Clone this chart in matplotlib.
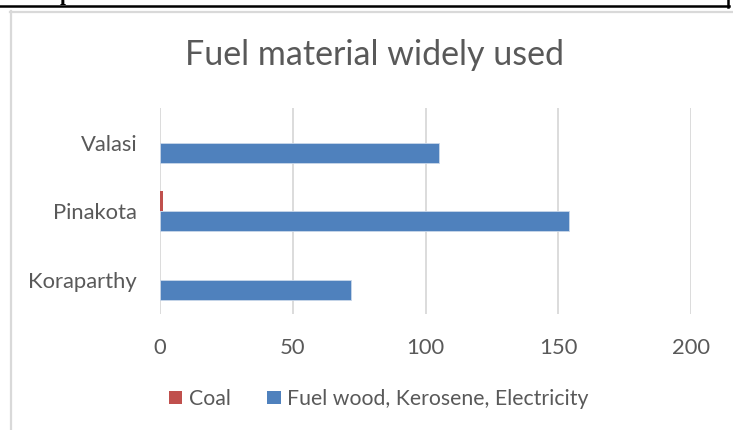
import matplotlib
matplotlib.use("Agg")
import matplotlib.pyplot as plt
from matplotlib.lines import Line2D
from matplotlib.patches import Patch
import numpy as np

categories = ["Koraparthy", "Pinakota", "Valasi"]
coal = [0, 1, 0]
fuelwood = [72, 154, 105]
series_names = ["Coal", "Fuel wood, Kerosene, Electricity"]
xticks = [0, 50, 100, 150, 200]

W, H = 733, 430
fig = plt.figure(figsize=(W / 100, H / 100), dpi=100)
plt.rcParams['font.family'] = ['Lato', 'DejaVu Sans']
txt = "#595959"
red = "#C0504D"
blue = "#4F81BD"
grid = "#D9D9D9"

def fx(px):
    return px / W

def fy(py):
    return 1 - py / H

# outer frames
fig.add_artist(Line2D([fx(0), fx(729)], [fy(6.3), fy(6.3)], color="black", lw=1.8))
fig.add_artist(Line2D([fx(727.8), fx(727.8)], [fy(0), fy(7)], color="black", lw=1.8))
fig.add_artist(Line2D([fx(10.5), fx(10.5)], [fy(11), fy(430)], color=grid, lw=1.6))
fig.add_artist(Line2D([fx(10), fx(733)], [fy(11.5), fy(11.5)], color=grid, lw=1.6))
fig.text(fx(66), fy(-0.3), "p", family="Liberation Serif", weight="bold",
         fontsize=15, ha="center", va="baseline", color="black")

left, right = 160, 691
top, bottom = 108.4, 314.3
ax = fig.add_axes([fx(left), fy(bottom), fx(right) - fx(left), fy(top) - fy(bottom)])

y = np.arange(len(categories))
h = 0.29
ax.barh(y + h / 2, coal, height=h, color=red, label=series_names[0], zorder=3)
ax.barh(y - h / 2, fuelwood, height=h, color=blue, label=series_names[1], zorder=3,
        edgecolor="#C9D7EA", linewidth=0.6)

ax.set_xlim(0, 200)
ax.set_ylim(-0.5, 2.5)
ax.set_xticks(xticks)
ax.set_xticklabels([str(v) for v in xticks])
ax.set_yticks(y)
ax.set_yticklabels(categories)
ax.tick_params(axis="both", length=0, labelsize=15.8, colors=txt)
ax.tick_params(axis="y", pad=16.5)
ax.tick_params(axis="x", pad=17)
ax.grid(axis="x", color=grid, lw=1.3, zorder=0)
for s in ax.spines.values():
    s.set_visible(False)

fig.text(fx(374), fy(65), "Fuel material widely used", fontsize=24.5, color=txt,
         ha="center", va="baseline")

handles = [Patch(facecolor=red), Patch(facecolor=blue)]
fig.legend(handles, series_names, loc="center", bbox_to_anchor=(fx(378.5), fy(399)),
           ncol=2, frameon=False, fontsize=15.3, labelcolor=txt,
           handlelength=0.65, handleheight=0.6, handletextpad=0.3, columnspacing=1.7)

fig.savefig("out.png", dpi=100)
